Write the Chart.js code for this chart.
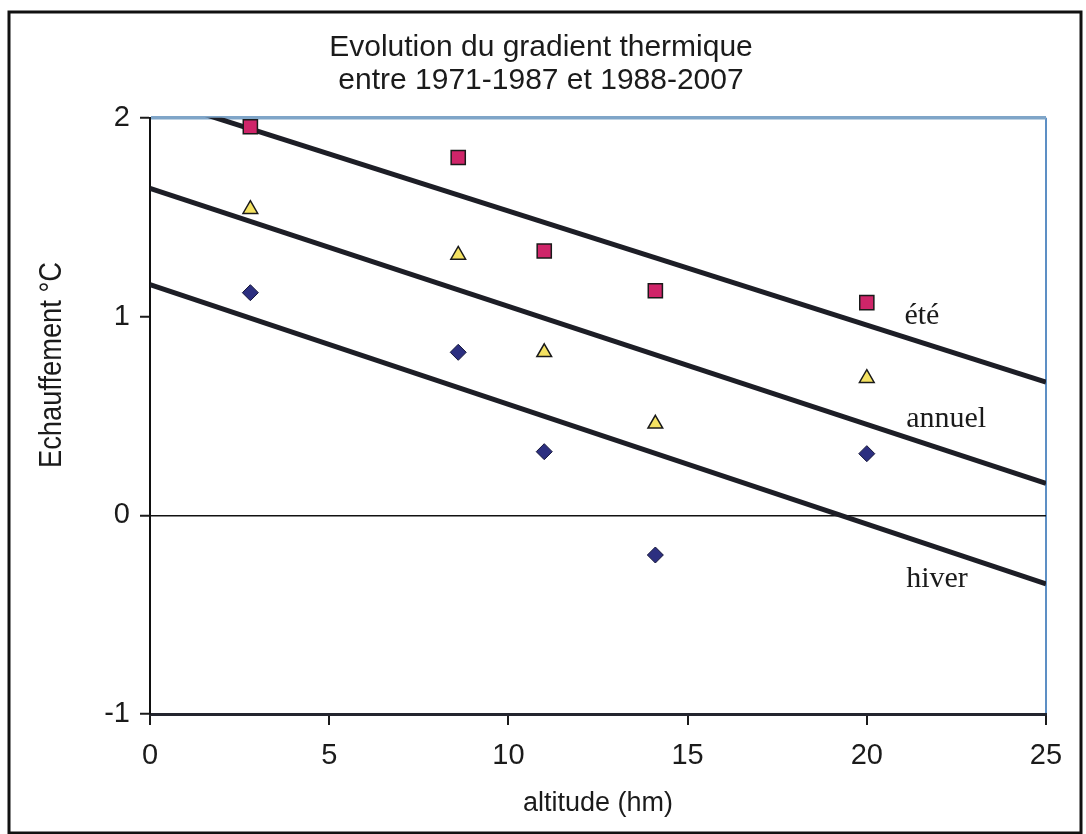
<!DOCTYPE html>
<html>
<head>
<meta charset="utf-8">
<title>Evolution du gradient thermique</title>
<script src="https://cdn.jsdelivr.net/npm/chart.js@4.4.1/dist/chart.umd.min.js"></script>
<style>
    body { margin: 0; background: #fff; }
    canvas { display: block; }
</style>
</head>
<body>
<canvas id="chart1" width="1086" height="834"></canvas>
<script>

// altitude des stations (hm)
let altitudes = [2.8, 8.6, 11, 14.1, 20]

// echauffement moyen (°C) entre 1971-1987 et 1988-2007
let ete = [1.955, 1.80, 1.33, 1.13, 1.07]
let annuel = [1.54, 1.31, 0.82, 0.46, 0.69]
let hiver = [1.12, 0.82, 0.32, -0.20, 0.31]

// droites de tendance, valeurs a 0 et 25 hm
let tendanceX = [0, 25]
let tendanceEte = [2.105, 0.67]
let tendanceAnnuel = [1.645, 0.16]
let tendanceHiver = [1.16, -0.345]

let xTicks = [0, 5, 10, 15, 20, 25]
let yTicks = [-1, 0, 1, 2]

// noms des droites, places en valeurs (x, y)
let noms = ['été', 'annuel', 'hiver']
let nomsX = [21.05, 21.1, 21.1]
let nomsY = [0.96, 0.445, -0.36]

function points(xs, ys){
    let out = []
    for (var i = 0; i < xs.length; i++){
        out.push({x: xs[i], y: ys[i]})
    }
    return out
}

function tendance(ys){
    return {
        data: points(tendanceX, ys),
        showLine: true,
        borderColor: '#1d1e26',
        borderWidth: 5,
        pointRadius: 0,
        clip: 0,
        order: 2,
    }
}

let fond = {
    id: 'fond',
    beforeDraw(chart){
        let ctx = chart.ctx
        ctx.save()
        ctx.fillStyle = '#fff'
        ctx.fillRect(0, 0, chart.width, chart.height)
        ctx.restore()
    },
    afterDatasetsDraw(chart){
        let ctx = chart.ctx
        let sx = chart.scales.x
        let sy = chart.scales.y
        ctx.save()
        ctx.fillStyle = '#1b1b1b'
        ctx.font = '30px "Liberation Serif", "Times New Roman", serif'
        ctx.textAlign = 'left'
        ctx.textBaseline = 'alphabetic'
        for (var i = 0; i < noms.length; i++){
            ctx.fillText(noms[i], sx.getPixelForValue(nomsX[i]), sy.getPixelForValue(nomsY[i]))
        }
        ctx.restore()
    },
    afterDraw(chart){
        let ctx = chart.ctx
        ctx.save()
        // titre de l'axe vertical, un peu serre
        ctx.translate(52, 365)
        ctx.rotate(-Math.PI / 2)
        ctx.scale(0.88, 1)
        ctx.fillStyle = '#1b1b1b'
        ctx.font = '31px "Liberation Sans", Arial, sans-serif'
        ctx.textAlign = 'center'
        ctx.textBaseline = 'middle'
        ctx.fillText('Echauffement °C', 0, 0)
        ctx.restore()
        // cadre de la page
        ctx.save()
        ctx.strokeStyle = '#111'
        ctx.lineWidth = 3
        ctx.strokeRect(9, 12, 1072, 821)
        ctx.restore()
    }
}

let chart1 = document.getElementById('chart1').getContext('2d')

let gradient = new Chart(chart1, {
    type: 'scatter',
    data: {
        datasets: [
            {
                label: 'été',
                data: points(altitudes, ete),
                pointStyle: 'rect',
                pointRadius: 10,
                pointBackgroundColor: '#cf2569',
                pointBorderColor: '#1a1a1a',
                pointBorderWidth: 1.5,
                order: 1,
            },
            {
                label: 'annuel',
                data: points(altitudes, annuel),
                pointStyle: 'triangle',
                pointRadius: 8.5,
                pointBackgroundColor: '#f4e262',
                pointBorderColor: '#1a1a1a',
                pointBorderWidth: 1.5,
                order: 1,
            },
            {
                label: 'hiver',
                data: points(altitudes, hiver),
                pointStyle: 'rectRot',
                pointRadius: 8,
                pointBackgroundColor: '#2c2f80',
                pointBorderColor: '#15163a',
                pointBorderWidth: 1,
                order: 1,
            },
            tendance(tendanceEte),
            tendance(tendanceAnnuel),
            tendance(tendanceHiver),
        ]
    },
    options: {
        responsive: false,
        animation: false,
        devicePixelRatio: 1,
        layout: {
            padding: {left: 36, right: 40, top: 0, bottom: 0}
        },
        plugins: {
            legend: {display: false},
            tooltip: {enabled: false},
            title: {
                display: true,
                text: ['Evolution du gradient thermique', 'entre 1971-1987 et 1988-2007'],
                color: '#1b1b1b',
                font: {family: '"Liberation Sans", Arial, sans-serif', size: 30, weight: 'normal', lineHeight: 1.08},
                padding: {top: 32, bottom: 21},
            },
        },
        scales: {
            x: {
                type: 'linear',
                min: 0,
                max: 25,
                afterBuildTicks(scale){
                    scale.ticks = xTicks.map(v => ({value: v}))
                },
                afterFit(scale){
                    scale.height = 120
                },
                ticks: {
                    color: '#1b1b1b',
                    font: {family: '"Liberation Sans", Arial, sans-serif', size: 29},
                    padding: 14,
                    maxRotation: 0,
                },
                grid: {
                    drawOnChartArea: true,
                    color: ctx => ctx.tick && ctx.tick.value === 25 ? '#5d8fc4' : 'rgba(0,0,0,0)',
                    lineWidth: 2,
                    tickColor: '#1b1b1b',
                    tickWidth: 2,
                    tickLength: 11,
                },
                border: {color: '#23252e', width: 3},
                title: {
                    display: true,
                    text: 'altitude (hm)',
                    color: '#1b1b1b',
                    font: {family: '"Liberation Sans", Arial, sans-serif', size: 27},
                    padding: {top: 0, bottom: 14},
                },
            },
            y: {
                type: 'linear',
                min: -1,
                max: 2,
                afterBuildTicks(scale){
                    scale.ticks = yTicks.map(v => ({value: v}))
                },
                afterFit(scale){
                    scale.width = 114
                },
                ticks: {
                    color: '#1b1b1b',
                    font: {family: '"Liberation Sans", Arial, sans-serif', size: 29},
                    padding: 10,
                },
                grid: {
                    color: ctx => {
                        if (!ctx.tick) return 'rgba(0,0,0,0)'
                        if (ctx.tick.value === 0) return '#111'
                        if (ctx.tick.value === 2) return '#7fa5c8'
                        return 'rgba(0,0,0,0)'
                    },
                    lineWidth: ctx => ctx.tick && ctx.tick.value === 2 ? 3.5 : 1.5,
                    tickColor: '#1b1b1b',
                    tickWidth: 2,
                    tickLength: 10,
                },
                border: {color: '#111', width: 2},
            },
        },
    },
    plugins: [fond],
});
</script>
</body>
</html>
